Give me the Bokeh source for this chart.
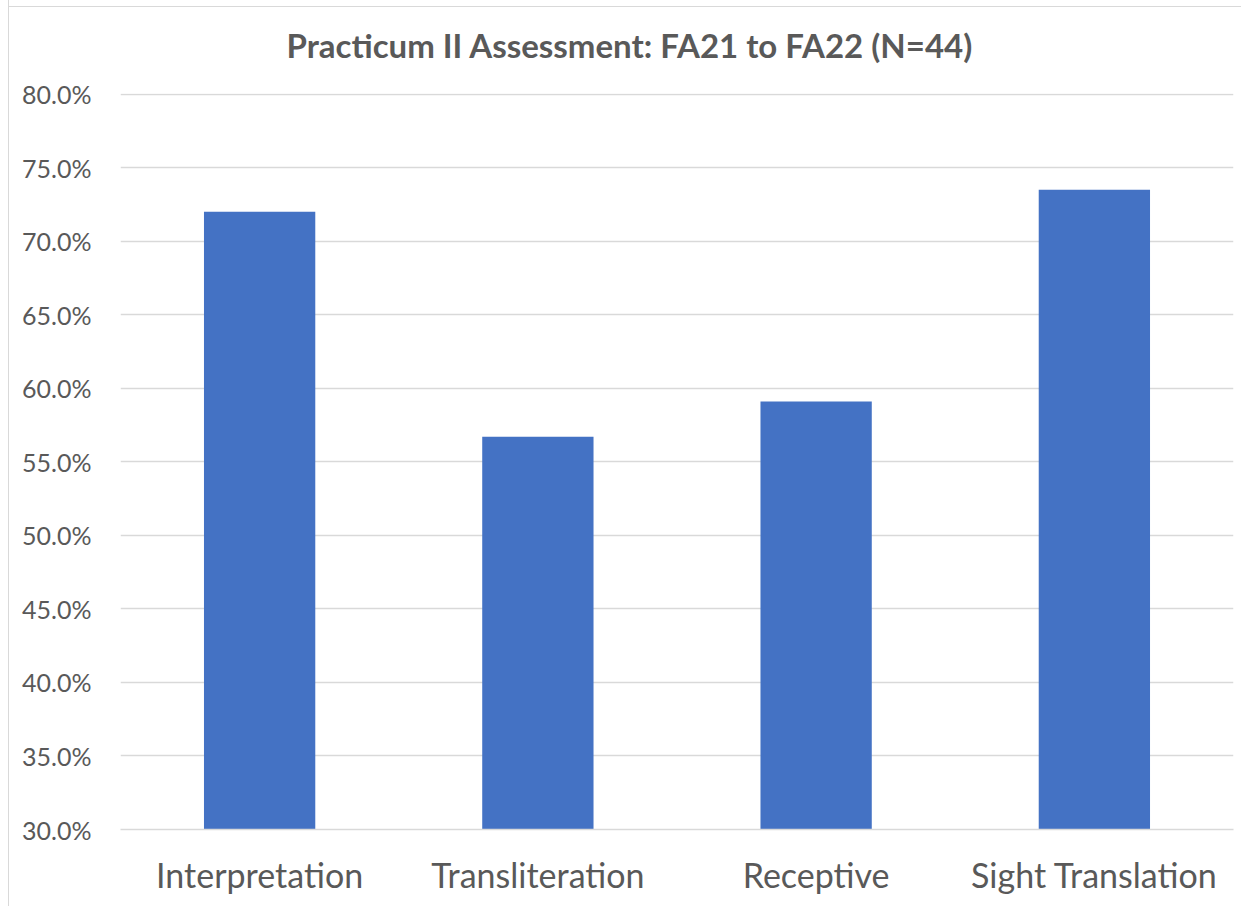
from bokeh.plotting import figure
from bokeh.models import NumeralTickFormatter, FixedTicker, ColumnDataSource, InlineStyleSheet
from bokeh.embed import file_html
from bokeh.resources import INLINE

categories = ["Interpretation", "Transliteration", "Receptive", "Sight Translation"]
scores = [0.720, 0.567, 0.591, 0.735]
y_ticks = [0.30, 0.35, 0.40, 0.45, 0.50, 0.55, 0.60, 0.65, 0.70, 0.75, 0.80]
title_text = "Practicum II Assessment: FA21 to FA22 (N=44)"

TEXT = "#595959"
FONT = "Lato"

src = ColumnDataSource(dict(cat=categories, val=scores))

p = figure(
    x_range=categories, y_range=(0.30, 0.8004),
    width=1232, height=912,
    frame_width=1113, frame_height=736,
    min_border_left=111, min_border_right=8,
    min_border_top=99, min_border_bottom=77,
    output_backend="svg", toolbar_location=None,
    title=title_text,
)
p.styles = {
    "margin-left": "8px",
    "margin-top": "-6px",
    "border-left": "1px solid #D9D9D9",
}
p.stylesheets = [InlineStyleSheet(css="""
:host { position: relative; }
:host::after {
  content: "";
  position: absolute;
  left: 0; top: 12px;
  width: 100%; height: 1px;
  background: #D9D9D9;
  pointer-events: none;
  z-index: 10;
}
""")]
p.vbar(x="cat", top="val", bottom=0.30, width=0.4, source=src,
       fill_color="#4472C4", line_color=None)

p.title.text_font = FONT
p.title.text_font_size = "33px"
p.title.text_font_style = "bold"
p.title.text_color = TEXT
p.title.align = "left"
p.title.offset = 166
p.title.standoff = 57

p.xgrid.grid_line_color = None
p.ygrid.grid_line_color = "#D9D9D9"
p.ygrid.grid_line_width = 1.5
p.ygrid.ticker = FixedTicker(ticks=y_ticks)

p.yaxis.ticker = FixedTicker(ticks=y_ticks)
p.yaxis.formatter = NumeralTickFormatter(format="0.0%")
p.yaxis.axis_line_color = None
p.yaxis.major_tick_line_color = None
p.yaxis.minor_tick_line_color = None
p.yaxis.major_label_standoff = 23
p.yaxis.major_label_text_font = FONT
p.yaxis.major_label_text_font_size = "25px"
p.yaxis.major_label_text_color = TEXT

p.xaxis.axis_line_color = "#D9D9D9"
p.xaxis.axis_line_width = 1.5
p.xaxis.major_tick_line_color = None
p.xaxis.minor_tick_line_color = None
p.xaxis.major_label_standoff = 18
p.xaxis.major_label_text_font = FONT
p.xaxis.major_label_text_font_size = "34px"
p.xaxis.major_label_text_color = TEXT

p.outline_line_color = None
p.background_fill_color = "white"
p.border_fill_color = "white"

open("out.html", "w").write(file_html(p, INLINE))
